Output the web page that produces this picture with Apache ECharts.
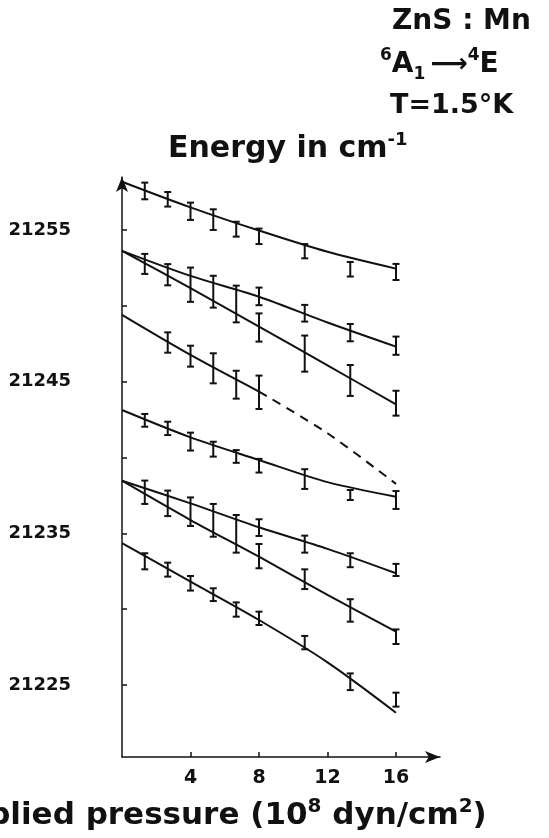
<!DOCTYPE html>
<html>
<head>
<meta charset="utf-8">
<script src="https://cdn.jsdelivr.net/npm/echarts@6.0.0/dist/echarts.min.js"></script>
<style>
  html, body { margin: 0; padding: 0; background: #ffffff; }
  #chart { width: 549px; height: 838px; }
</style>
</head>
<body>
<div id="chart"></div>
<script>
// ---------------- data ----------------
// pressure values (10^8 dyn/cm^2) at which measurements were taken
const barX      = [1.33, 2.67, 4, 5.33, 6.67, 8, 10.67, 13.33, 16];
const barXLow   = [1.33, 2.67, 4, 5.33, 6.67];           // unresolved (combined) doublets
const barXHigh  = [8, 10.67, 13.33, 16];                  // resolved branches
const barXC     = [2.67, 4, 5.33, 6.67, 8];               // third level

// fitted curves: x positions and energies (cm^-1)
const curveX     = [0, 4, 8, 12, 16];
const curveA     = [21258.18, 21256.49, 21254.96, 21253.56, 21252.45];
const curveB1    = [21253.62, 21251.97, 21250.60, 21248.90, 21247.31];
const curveB2    = [21253.62, 21251.16, 21248.63, 21246.07, 21243.51];
const curveCX    = [0, 4, 8];
const curveC     = [21249.40, 21246.76, 21244.35];
const dashedCX   = [8, 12, 16];
const dashedC    = [21244.35, 21241.60, 21238.26];
const curveD     = [21243.13, 21241.33, 21239.84, 21238.38, 21237.42];
const curveE1    = [21238.47, 21236.98, 21235.40, 21233.98, 21232.37];
const curveE2    = [21238.47, 21235.88, 21233.46, 21230.94, 21228.52];
const curveF     = [21234.35, 21231.82, 21229.29, 21226.50, 21223.18];

// measured points: centre and half error
const ptsA    = [21257.57, 21257.02, 21256.23, 21255.68, 21255.05, 21254.58, 21253.60, 21252.41, 21252.23];
const errA    = [0.55, 0.48, 0.57, 0.68, 0.49, 0.51, 0.47, 0.48, 0.53];
const ptsBlo  = [21252.76, 21252.05, 21251.39, 21250.93, 21250.12];
const errBlo  = [0.66, 0.70, 1.13, 1.05, 1.21];
const ptsB1   = [21250.62, 21249.51, 21248.23, 21247.37];
const errB1   = [0.58, 0.55, 0.57, 0.60];
const ptsB2   = [21248.57, 21246.85, 21245.08, 21243.58];
const errB2   = [0.93, 1.19, 1.02, 0.82];
const ptsC    = [21247.58, 21246.68, 21245.88, 21244.80, 21244.30];
const errC    = [0.67, 0.69, 0.99, 0.92, 1.10];
const ptsD    = [21242.45, 21241.92, 21241.05, 21240.55, 21240.07, 21239.46, 21238.58, 21237.53, 21237.20];
const errD    = [0.42, 0.44, 0.59, 0.49, 0.42, 0.45, 0.65, 0.33, 0.59];
const ptsElo  = [21237.71, 21236.98, 21236.43, 21235.86, 21234.97];
const errElo  = [0.77, 0.84, 0.94, 1.08, 1.24];
const ptsE1   = [21235.38, 21234.29, 21233.23, 21232.59];
const errE1   = [0.55, 0.56, 0.46, 0.40];
const ptsE2   = [21233.50, 21231.98, 21229.92, 21228.19];
const errE2   = [0.80, 0.65, 0.74, 0.48];
const ptsF    = [21233.16, 21232.61, 21231.71, 21230.96, 21229.98, 21229.40, 21227.80, 21225.22, 21224.04];
const errF    = [0.53, 0.46, 0.48, 0.42, 0.47, 0.44, 0.44, 0.55, 0.46];

// axis ticks
const yTicks  = [21225, 21230, 21235, 21240, 21245, 21250, 21255];
const yLabels = [21225, 21235, 21245, 21255];
const xTicks  = [4, 8, 12, 16];

// ---------------- chart ----------------
const INK = '#111111';
const FONT = '"DejaVu Sans", sans-serif';

function pairs(xs, ys) { return xs.map((x, i) => [x, ys[i]]); }
function bars(xs, c, e) { return xs.map((x, i) => [x, c[i] - e[i], c[i] + e[i]]); }

function lineSeries(xs, ys, dashed) {
  return {
    type: 'line',
    data: pairs(xs, ys),
    smooth: 0.3,
    showSymbol: false,
    symbol: 'none',
    silent: true,
    lineStyle: { color: INK, width: 2, type: dashed ? [9, 7] : 'solid' },
    z: 2
  };
}

function renderBar(params, api) {
  const x = api.value(0), lo = api.value(1), hi = api.value(2);
  const p1 = api.coord([x, lo]);
  const p2 = api.coord([x, hi]);
  const w = 3.5;
  const st = { stroke: INK, lineWidth: 2 };
  return {
    type: 'group',
    children: [
      { type: 'line', shape: { x1: p1[0], y1: p1[1], x2: p2[0], y2: p2[1] }, style: st },
      { type: 'line', shape: { x1: p1[0] - w, y1: p1[1], x2: p1[0] + w, y2: p1[1] }, style: st },
      { type: 'line', shape: { x1: p2[0] - w, y1: p2[1], x2: p2[0] + w, y2: p2[1] }, style: st }
    ]
  };
}

function barSeries(xs, c, e) {
  return {
    type: 'custom',
    renderItem: renderBar,
    data: bars(xs, c, e),
    encode: { x: 0, y: [1, 2] },
    silent: true,
    z: 3
  };
}

const chart = echarts.init(document.getElementById('chart'), null, { renderer: 'canvas' });

const option = {
  backgroundColor: '#ffffff',
  animation: false,
  grid: { left: 122, right: 109, top: 177, bottom: 81, containLabel: false },
  xAxis: {
    type: 'value',
    min: 0,
    max: 18.57,
    splitLine: { show: false },
    axisLine: { show: true, onZero: false, symbol: ['none', 'arrow'], symbolSize: [9, 15],
                lineStyle: { color: INK, width: 1.5 } },
    axisTick: { show: true, inside: true, length: 5, customValues: xTicks, lineStyle: { color: INK, width: 1.5 } },
    axisLabel: { show: true, customValues: xTicks, margin: 12, color: INK,
                 fontFamily: FONT, fontWeight: 'bold', fontSize: 19 }
  },
  yAxis: {
    type: 'value',
    min: 21220.26,
    max: 21258.49,
    splitLine: { show: false },
    axisLine: { show: true, onZero: false, symbol: ['none', 'arrow'], symbolSize: [9, 15],
                lineStyle: { color: INK, width: 1.5 } },
    axisTick: { show: true, inside: true, length: 5, customValues: yTicks, lineStyle: { color: INK, width: 1.5 } },
    axisLabel: { show: true, customValues: yLabels, margin: 51, color: INK,
                 fontFamily: FONT, fontWeight: 'bold', fontSize: 18,
                 formatter: v => String(v) }
  },
  series: [
    lineSeries(curveX, curveA),
    lineSeries(curveX, curveB1),
    lineSeries(curveX, curveB2),
    lineSeries(curveCX, curveC),
    lineSeries(dashedCX, dashedC, true),
    lineSeries(curveX, curveD),
    lineSeries(curveX, curveE1),
    lineSeries(curveX, curveE2),
    lineSeries(curveX, curveF),
    barSeries(barX, ptsA, errA),
    barSeries(barXLow, ptsBlo, errBlo),
    barSeries(barXHigh, ptsB1, errB1),
    barSeries(barXHigh, ptsB2, errB2),
    barSeries(barXC, ptsC, errC),
    barSeries(barX, ptsD, errD),
    barSeries(barXLow, ptsElo, errElo),
    barSeries(barXHigh, ptsE1, errE1),
    barSeries(barXHigh, ptsE2, errE2),
    barSeries(barX, ptsF, errF)
  ],
  graphic: [
    {
      type: 'text', x: 392, y: 22, silent: true,
      style: { text: 'ZnS : Mn', fill: INK, font: 'bold 28px ' + FONT, align: 'left', verticalAlign: 'middle' }
    },
    {
      type: 'text', x: 380, y: 65, silent: true,
      style: {
        text: '{sup|6}{big|A}{sub|1}{sp| }{arr|⟶}{sup|4}{big|E}',
        align: 'left', verticalAlign: 'middle', fill: INK,
        rich: {
          big: { fontFamily: FONT, fontWeight: 'bold', fontSize: 28, lineHeight: 36, fill: INK },
          sup: { fontFamily: FONT, fontWeight: 'bold', fontSize: 17, lineHeight: 17, verticalAlign: 'top', fill: INK },
          sub: { fontFamily: FONT, fontWeight: 'bold', fontSize: 17, lineHeight: 17, verticalAlign: 'bottom', fill: INK },
          sp:  { fontFamily: FONT, fontSize: 16, lineHeight: 36 },
          arr: { fontFamily: FONT, fontWeight: 'bold', fontSize: 26, lineHeight: 36, fill: INK }
        }
      }
    },
    {
      type: 'text', x: 390, y: 106, silent: true,
      style: { text: 'T=1.5°K', fill: INK, font: 'bold 27px ' + FONT, align: 'left', verticalAlign: 'middle' }
    },
    {
      type: 'text', x: 168, y: 149, silent: true,
      style: {
        text: '{m|Energy in cm}{sup|-1}',
        align: 'left', verticalAlign: 'middle', fill: INK,
        rich: {
          m:   { fontFamily: FONT, fontWeight: 'bold', fontSize: 30, lineHeight: 36, fill: INK },
          sup: { fontFamily: FONT, fontWeight: 'bold', fontSize: 18, lineHeight: 18, verticalAlign: 'top', fill: INK }
        }
      }
    },
    {
      type: 'text', x: -58, y: 816, silent: true,
      style: {
        text: '{m|Applied pressure (10}{sup|8}{m| dyn/cm}{sup|2}{m|)}',
        align: 'left', verticalAlign: 'middle', fill: INK,
        rich: {
          m:   { fontFamily: FONT, fontWeight: 'bold', fontSize: 31, lineHeight: 38, fill: INK },
          sup: { fontFamily: FONT, fontWeight: 'bold', fontSize: 20, lineHeight: 20, verticalAlign: 'top', fill: INK }
        }
      }
    }
  ]
};

chart.setOption(option);
</script>
</body>
</html>
